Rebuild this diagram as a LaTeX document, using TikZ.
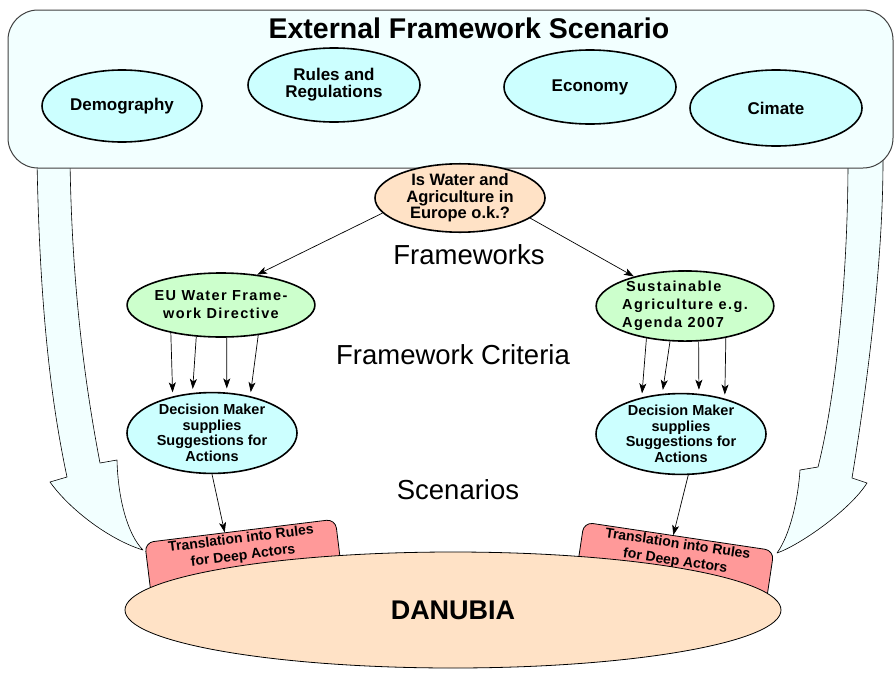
\documentclass[tikz,border=0pt]{standalone}
\usepackage{fontspec}
\setmainfont{Liberation Sans}
\newfontfamily\spacedfont[LetterSpace=9.5]{Liberation Sans}
\usetikzlibrary{calc,arrows.meta,shapes.geometric}
\definecolor{boxfill}{RGB}{242,255,255}
\definecolor{cyanfill}{RGB}{204,255,255}
\definecolor{peachfill}{RGB}{255,226,198}
\definecolor{greenfill}{RGB}{204,255,204}
\definecolor{pinkfill}{RGB}{255,153,153}
\tikzset{
  bigarrow/.style={fill=boxfill, draw=black, line width=0.6pt, line join=round},
  topbox/.style={draw=black!75, line width=1pt, fill=boxfill, rounded corners=30pt, inner sep=0pt},
  ell/.style={ellipse, draw=black, line width=1.6pt, inner sep=0pt, align=center, font=\bfseries},
  cyanell/.style={ell, fill=cyanfill},
  peachell/.style={ell, fill=peachfill},
  greenell/.style={ell, fill=greenfill},
  topfont/.style={font=\fontsize{17}{17}\selectfont\bfseries},
  dmfont/.style={font=\fontsize{14.5}{15.5}\selectfont\bfseries},
  spfont/.style={font=\fontsize{14.5}{18}\spacedfont\bfseries},
  biglabel/.style={font=\fontsize{27.5}{30}\selectfont, inner sep=0pt},
  transbox/.style={draw=black, line width=0.8pt, fill=pinkfill, rounded corners=9pt,
    minimum width=192pt, minimum height=62pt, inner sep=0pt, anchor=north},
  transtext/.style={align=center, inner xsep=0pt, inner ysep=2pt, anchor=north,
    font=\fontsize{14}{17}\selectfont\bfseries},
  conn/.style={-{Stealth[length=10pt,width=7pt,inset=2.5pt]}, line width=0.7pt},
}
\begin{document}
\begin{tikzpicture}[x=1pt,y=-1pt]
\useasboundingbox (0,0) rectangle (894,672);
% big curved arrows
\draw[bigarrow] (37,160) .. controls (40,330) and (55,420) .. (67,477) -- (50,482)
  .. controls (70,510) and (110,540) .. (143,550)
  .. controls (128,535) and (118,500) .. (117,460) -- (100,463)
  .. controls (88,400) and (72,300) .. (70,160) -- cycle;
\draw[bigarrow] (848,160) .. controls (848,280) and (835,400) .. (818,467) -- (800,470)
  .. controls (798,500) and (790,535) .. (777,553)
  .. controls (800,545) and (850,510) .. (867,483) -- (852,478)
  .. controls (868,380) and (883,260) .. (883,160) -- cycle;
% top box
\node[topbox, minimum width=885pt, minimum height=158pt] (ext) at (450.5,89) {};
\node[font=\fontsize{28.5}{30}\selectfont\bfseries, inner sep=0pt] (title) at (469,28) {External Framework Scenario};
\node[cyanell, topfont, minimum width=160pt, minimum height=72pt] (demo) at (122,106) {Demography};
\node[cyanell, topfont, minimum width=172pt, minimum height=74pt] (rules) at (334,85) {Rules and\\Regulations};
\node[cyanell, topfont, minimum width=172pt, minimum height=74pt] (econ) at (590,87) {Economy};
\node[cyanell, topfont, minimum width=172pt, minimum height=76pt] (clim) at (776,108) {Cimate};
% translation boxes
\node[transbox, rotate=7] (tl) at (240,530.5) {};
\node[transtext, rotate=7] (tlt) at (tl.north) {Translation into Rules\\for Deep Actors};
\node[transbox, rotate=-8.5] (tr) at (679,536) {};
\node[transtext, rotate=-8.5] (trt) at (tr.north) {Translation into Rules\\for Deep Actors};
% DANUBIA
\node[ell, fill=peachfill, line width=0.8pt, minimum width=656pt, minimum height=116pt,
  font=\fontsize{27}{30}\selectfont\bfseries] (dan) at (453,610) {DANUBIA};
% middle
\node[peachell, font=\fontsize{16.5}{16.5}\selectfont\bfseries, minimum width=170pt, minimum height=68pt] (water) at (460,198) {Is Water and\\Agriculture in\\Europe o.k.?};
\node[greenell, spfont, minimum width=172pt, minimum height=64pt] (eu) at (221,305) {EU Water Frame-\\work Directive};
\node[greenell, spfont, align=left, minimum width=170pt, minimum height=68pt] (sust) at (685,306) {\hspace*{4pt}Sustainable\\Agriculture e.g.\\Agenda 2007};
\node[cyanell, dmfont, minimum width=170pt, minimum height=74pt] (dml) at (212,433) {Decision Maker\\supplies\\Suggestions for\\Actions};
\node[cyanell, dmfont, minimum width=170pt, minimum height=70pt] (dmr) at (681,434) {Decision Maker\\supplies\\Suggestions for\\Actions};
% labels
\node[biglabel] (lfw) at (469,255) {Frameworks};
\node[biglabel] (lfc) at (453,355) {Framework Criteria};
\node[biglabel] (lsc) at (458,490) {Scenarios};
% connectors
\draw[conn] (water.191) -- (eu.40);
\draw[conn] (water.-16) -- (sust.150);
\draw[conn, shorten >=4pt] (eu.209) -- (dml.137);
\draw[conn, shorten >=4pt] (eu.232) -- (dml.116);
\draw[conn, shorten >=4pt] (eu.280) -- (dml.70);
\draw[conn, shorten >=4pt] (eu.321) -- (dml.44);
\draw[conn, shorten >=4pt] (sust.220) -- (dmr.137);
\draw[conn, shorten >=4pt] (sust.247) -- (dmr.115);
\draw[conn, shorten >=4pt] (sust.291) -- (dmr.66);
\draw[conn, shorten >=4pt] (sust.322) -- (dmr.39);
\draw[conn] (dml.south) -- ($(tl.north west)!0.42!(tl.north east)$);
\draw[conn] (dmr.-80) -- ($(tr.north west)!0.47!(tr.north east)$);
\end{tikzpicture}
\end{document}
